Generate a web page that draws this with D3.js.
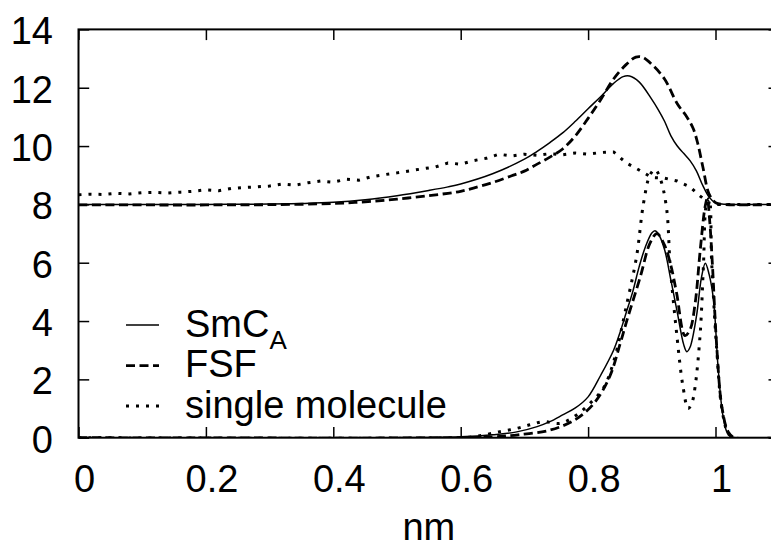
<!DOCTYPE html>
<html>
<head>
<meta charset="utf-8">
<script src="https://cdn.jsdelivr.net/npm/d3@7/dist/d3.min.js"></script>
<style>
  html, body { margin: 0; padding: 0; background: #fff; }
  svg { display: block; }
  text { font-family: "Liberation Sans", Arial, Helvetica, sans-serif; fill: #000; }
</style>
</head>
<body>
<svg id="chart" width="771" height="555"></svg>
<script>
// ---- data ----
const xTicks = [0, 0.2, 0.4, 0.6, 0.8, 1];
const xTickLabels = ["0", "0.2", "0.4", "0.6", "0.8", "1"];
const yTicks = [0, 2, 4, 6, 8, 10, 12, 14];
const xLabel = "nm";

// SmC_A, upper curve (baseline 8)
const smcUpper = [[0,8.0],[0.1,8.0],[0.2,8.0],[0.3,8.01],[0.35,8.03],[0.4,8.07],[0.45,8.16],[0.5,8.3],
  [0.55,8.48],[0.58,8.6],[0.6,8.7],[0.65,9.05],[0.7,9.55],[0.72,9.82],[0.74,10.12],[0.76,10.45],
  [0.78,10.85],[0.8,11.28],[0.82,11.7],[0.84,12.15],[0.855,12.38],[0.865,12.4],[0.88,12.2],
  [0.9,11.6],[0.91,11.25],[0.92,10.85],[0.93,10.35],[0.94,10.0],[0.95,9.75],[0.96,9.5],[0.97,9.15],
  [0.98,8.65],[0.99,8.25],[1.0,8.05],[1.01,8.01],[1.02,8.0],[1.1,8.0]];
// FSF, upper curve
const fsfUpper = [[0,7.98],[0.1,7.98],[0.2,7.98],[0.3,7.99],[0.4,8.03],[0.45,8.09],[0.5,8.18],[0.55,8.3],
  [0.58,8.38],[0.6,8.45],[0.62,8.56],[0.65,8.75],[0.68,8.98],[0.7,9.14],[0.72,9.38],[0.74,9.62],
  [0.76,9.9],[0.78,10.35],[0.8,10.95],[0.82,11.6],[0.84,12.3],[0.86,12.8],[0.875,13.05],[0.885,13.05],
  [0.9,12.8],[0.92,12.3],[0.94,11.45],[0.955,11.0],[0.965,10.6],[0.972,10.1],[0.98,9.3],[0.99,8.35],
  [1.0,8.06],[1.01,8.0],[1.1,8.0]];
// single molecule, upper curve (noisy)
const singleUpper = [[0,8.33],[0.02,8.35],[0.04,8.34],[0.06,8.38],[0.08,8.36],[0.1,8.4],[0.12,8.41],
  [0.14,8.39],[0.16,8.42],[0.18,8.45],[0.2,8.5],[0.22,8.47],[0.24,8.55],[0.26,8.58],[0.28,8.6],
  [0.3,8.63],[0.32,8.7],[0.34,8.66],[0.36,8.74],[0.38,8.8],[0.4,8.76],[0.42,8.86],[0.44,8.83],
  [0.46,8.95],[0.48,9.02],[0.5,9.08],[0.52,9.15],[0.54,9.22],[0.56,9.28],[0.58,9.42],[0.6,9.38],
  [0.62,9.5],[0.64,9.58],[0.66,9.72],[0.68,9.66],[0.7,9.72],[0.72,9.68],[0.74,9.74],[0.76,9.7],
  [0.78,9.76],[0.8,9.72],[0.82,9.78],[0.84,9.8],[0.86,9.42],[0.88,9.18],[0.9,8.92],[0.92,8.9],
  [0.94,8.8],[0.96,8.6],[0.975,8.3],[0.99,8.05],[1.0,8.0],[1.1,8.0]];

// SmC_A, lower curve (baseline 0)
const smcLower = [[0,0],[0.5,0],[0.55,0.01],[0.6,0.03],[0.65,0.1],[0.688,0.2],[0.72,0.38],[0.74,0.55],
  [0.76,0.78],[0.78,1.02],[0.8,1.4],[0.82,2.15],[0.84,3.0],[0.85,3.6],[0.86,4.3],[0.87,5.0],
  [0.88,5.85],[0.89,6.55],[0.9,7.02],[0.905,7.1],[0.91,7.0],[0.92,6.45],[0.93,5.4],[0.94,4.3],
  [0.95,3.2],[0.955,2.95],[0.96,3.1],[0.97,4.15],[0.978,5.5],[0.984,5.98],[0.99,5.6],[0.997,4.7],
  [1.004,2.43],[1.012,0.72],[1.02,0.1],[1.03,0],[1.1,0]];
// FSF, lower curve
const fsfLower = [[0,0],[0.6,0],[0.65,0.03],[0.69,0.1],[0.74,0.26],[0.78,0.62],[0.81,1.2],[0.834,2.1],
  [0.85,3.2],[0.861,4.03],[0.882,5.52],[0.897,6.66],[0.908,7.0],[0.92,6.6],[0.93,5.9],[0.939,4.95],
  [0.952,3.5],[0.96,3.7],[0.968,4.6],[0.976,6.43],[0.9835,7.9],[0.987,8.2],[0.991,7.4],[0.995,6.0],
  [1.002,3.1],[1.01,1.06],[1.02,0.2],[1.03,0],[1.1,0]];
// single molecule, lower curve
const singleLower = [[0,0],[0.6,0],[0.62,0.03],[0.636,0.09],[0.66,0.2],[0.688,0.32],[0.71,0.45],
  [0.73,0.55],[0.756,0.49],[0.78,0.75],[0.803,1.18],[0.824,1.7],[0.84,2.6],[0.861,4.61],[0.876,6.2],
  [0.887,8.04],[0.897,9.0],[0.905,9.2],[0.913,8.9],[0.923,7.9],[0.929,5.86],[0.939,3.58],[0.949,1.75],
  [0.957,1.0],[0.963,1.2],[0.968,1.75],[0.976,3.58],[0.981,5.86],[0.986,8.04],[0.99,8.2],[0.994,6.0],
  [1.002,3.0],[1.01,1.0],[1.02,0.15],[1.03,0],[1.1,0]];

const legendLabels = ["SmC", "FSF", "single molecule"];

(function () {
// ---- layout ----
const svg = d3.select("#chart");
const FS = 38;
const pLeft = 78.5, pRight = 779.2, pTop = 29.4, pBottom = 437.7;
const x = d3.scaleLinear().domain([0, 1.1]).range([pLeft, pRight]);
const y = d3.scaleLinear().domain([0, 14]).range([pBottom, pTop]);

svg.append("defs").append("clipPath").attr("id", "clip")
  .append("rect").attr("x", pLeft).attr("y", pTop).attr("width", pRight - pLeft).attr("height", pBottom - pTop);

const tick = 10.7;

// bottom axis
const xAxis = svg.append("g").attr("transform", `translate(0,${pBottom})`)
  .call(d3.axisBottom(x).tickValues(xTicks).tickFormat((d, i) => xTickLabels[i])
    .tickSizeInner(-tick).tickSizeOuter(0).tickPadding(27.3));
xAxis.selectAll("text").attr("x", 5.5).style("font-size", FS + "px");
xAxis.attr("font-family", null).attr("font-size", null);
// top ticks
svg.append("g").attr("transform", `translate(0,${pTop})`)
  .call(d3.axisTop(x).tickValues(xTicks).tickFormat("").tickSizeInner(-tick).tickSizeOuter(0));
// left axis
const yAxis = svg.append("g").attr("transform", `translate(${pLeft},0)`)
  .call(d3.axisLeft(y).tickValues(yTicks).tickFormat(d3.format("d"))
    .tickSizeInner(-tick).tickSizeOuter(0).tickPadding(25.5));
yAxis.selectAll("text").attr("dy", "0.38em").style("font-size", FS + "px");
yAxis.attr("font-family", null).attr("font-size", null);
// right ticks
svg.append("g").attr("transform", `translate(${pRight},0)`)
  .call(d3.axisRight(y).tickValues(yTicks).tickFormat("").tickSizeInner(-tick).tickSizeOuter(0));

svg.selectAll(".domain").remove();
svg.selectAll(".tick line").attr("stroke", "#000").attr("stroke-width", 1.5);

// frame
svg.append("rect").attr("x", pLeft).attr("y", pTop).attr("width", pRight - pLeft).attr("height", pBottom - pTop)
  .attr("fill", "none").attr("stroke", "#000").attr("stroke-width", 2);

// curves
const smooth = d3.line().x(d => x(d[0])).y(d => y(d[1])).curve(d3.curveCatmullRom.alpha(0.5));
const straight = d3.line().x(d => x(d[0])).y(d => y(d[1]));
const styles = {
  solid: { w: 1.5, dash: null },
  dashed: { w: 2.8, dash: "9,4.5" },
  dotted: { w: 3, dash: "3,7" }
};
const g = svg.append("g").attr("clip-path", "url(#clip)");
function draw(data, st, gen) {
  g.append("path").datum(data).attr("d", gen).attr("fill", "none").attr("stroke", "#000")
    .attr("stroke-width", styles[st].w).attr("stroke-dasharray", styles[st].dash)
    .attr("stroke-linejoin", "round");
}
draw(smcUpper, "solid", smooth);
draw(fsfUpper, "dashed", smooth);
draw(singleUpper, "dotted", straight);
draw(smcLower, "solid", smooth);
draw(fsfLower, "dashed", smooth);
draw(singleLower, "dotted", smooth);

// legend
const legY = [325, 365.7, 406];
const legStyles = ["solid", "dashed", "dotted"];
legStyles.forEach((st, i) => {
  svg.append("line").attr("x1", 126).attr("x2", 159).attr("y1", legY[i]).attr("y2", legY[i])
    .attr("stroke", "#000").attr("stroke-width", styles[st].w).attr("stroke-dasharray", styles[st].dash);
  const t = svg.append("text").attr("x", 185).attr("y", legY[i] + 11.5).style("font-size", FS + "px")
    .text(legendLabels[i]);
  if (i === 0) {
    t.append("tspan").attr("dy", 12).style("font-size", "26px").text("A");
  }
});

// x label
svg.append("text").attr("x", (pLeft + pRight) / 2).attr("y", 540).attr("text-anchor", "middle")
  .style("font-size", FS + "px").text(xLabel);
})();
</script>
</body>
</html>
